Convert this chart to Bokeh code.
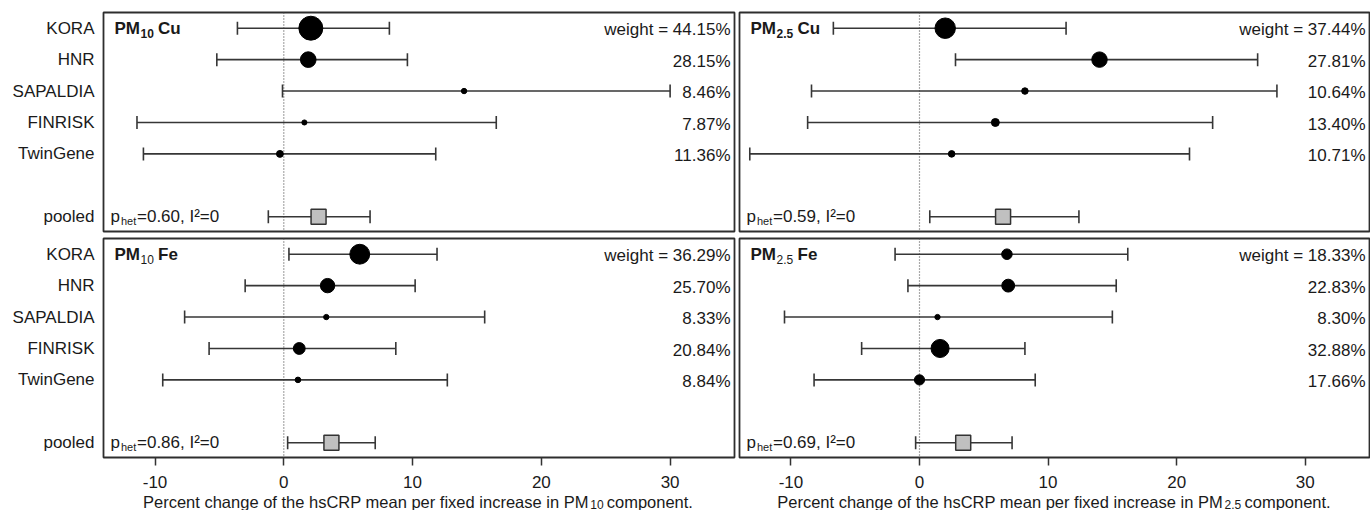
import numpy as np
from bokeh.plotting import figure
from bokeh.models import Range1d, FixedTicker, Span, Label, ColumnDataSource
from bokeh.layouts import row, column
from bokeh.embed import file_html
from bokeh.resources import INLINE

# ---------------- data ----------------
studies = ["KORA", "HNR", "SAPALDIA", "FINRISK", "TwinGene"]
pooled_name = "pooled"
x_ticks = [-10, 0, 10, 20, 30]

# PM10 Cu
pm10_cu_est = [2.1, 1.9, 14.0, 1.6, -0.3]
pm10_cu_lo = [-3.6, -5.2, -0.1, -11.4, -10.9]
pm10_cu_hi = [8.2, 9.6, 30.0, 16.5, 11.8]
pm10_cu_w = [44.15, 28.15, 8.46, 7.87, 11.36]
pm10_cu_pooled = [2.7, -1.2, 6.7]  # estimate, lower, upper
pm10_cu_phet = 0.60

# PM2.5 Cu
pm25_cu_est = [2.0, 14.0, 8.2, 5.9, 2.5]
pm25_cu_lo = [-6.7, 2.8, -8.4, -8.7, -13.2]
pm25_cu_hi = [11.4, 26.3, 27.8, 22.8, 21.0]
pm25_cu_w = [37.44, 27.81, 10.64, 13.40, 10.71]
pm25_cu_pooled = [6.5, 0.8, 12.4]
pm25_cu_phet = 0.59

# PM10 Fe
pm10_fe_est = [5.9, 3.4, 3.3, 1.2, 1.1]
pm10_fe_lo = [0.4, -3.0, -7.7, -5.8, -9.4]
pm10_fe_hi = [11.9, 10.2, 15.6, 8.7, 12.7]
pm10_fe_w = [36.29, 25.70, 8.33, 20.84, 8.84]
pm10_fe_pooled = [3.7, 0.3, 7.1]
pm10_fe_phet = 0.86

# PM2.5 Fe
pm25_fe_est = [6.8, 6.9, 1.4, 1.6, 0.0]
pm25_fe_lo = [-1.9, -0.9, -10.5, -4.5, -8.2]
pm25_fe_hi = [16.2, 15.3, 15.0, 8.2, 9.0]
pm25_fe_w = [18.33, 22.83, 8.30, 32.88, 17.66]
pm25_fe_pooled = [3.4, -0.3, 7.2]
pm25_fe_phet = 0.69

axis_title_main = "Percent change of the hsCRP mean per fixed increase in PM"
axis_title_end = "component."

# ---------------- style ----------------
FONT = "Liberation Sans"
INK = "#1a1a1a"
LINE = "#363636"
FS = "17px"
SUB_FS = "12px"
SUB_W = {"10": 13.5, "2.5": 17.0}
TFS = 16.5                       # axis-title font size (px)
MAIN_EM, END_EM = 27.01, 5.225   # estimated text widths in em

rows = list(range(len(studies)))
pooled_row = len(studies) + 1


def lab(p, x, y, text, size=FS, bold=False, align="left", yu="data"):
    p.add_layout(Label(x=x, y=y, x_units="screen", y_units=yu, text=text,
                       text_font=FONT, text_font_size=size,
                       text_font_style="bold" if bold else "normal",
                       text_align=align, text_baseline="middle",
                       text_color=INK))


def panel(est, lo, hi, w, pooled, phet, fraction, metal, sub_bold, left, bottom):
    fw = 631 if left else 630
    p = figure(frame_width=fw, frame_height=219,
               x_range=Range1d(-14, 35), y_range=Range1d(6.47, -0.5),
               output_backend="svg", toolbar_location=None,
               min_border_left=103 if left else 3,
               min_border_right=2 if left else 1,
               min_border_top=4 if bottom else 12,
               min_border_bottom=35 if bottom else 3,
               x_axis_location="below" if bottom else None,
               y_axis_location="left" if left else None,
               background_fill_color="white", border_fill_color="white")
    p.xgrid.grid_line_color = None
    p.ygrid.grid_line_color = None
    p.outline_line_color = "#2e2e2e"
    p.outline_line_width = 1.8

    if left:
        ax = p.yaxis[0]
        ax.ticker = FixedTicker(ticks=rows + [pooled_row])
        ov = {r: s for r, s in zip(rows, studies)}
        ov[pooled_row] = pooled_name
        ax.major_label_overrides = ov
        ax.axis_line_color = None
        ax.major_tick_line_color = None
        ax.minor_tick_line_color = None
        ax.major_tick_in = 0
        ax.major_tick_out = 0
        ax.major_label_standoff = 9
        ax.major_label_text_font = FONT
        ax.major_label_text_font_size = FS
        ax.major_label_text_color = INK
    if bottom:
        ax = p.xaxis[0]
        ax.ticker = FixedTicker(ticks=x_ticks)
        ax.major_label_overrides = {t: str(t) for t in x_ticks}
        ax.axis_line_color = None
        ax.major_tick_in = 0
        ax.major_tick_out = 8
        ax.major_tick_line_color = "#333333"
        ax.major_tick_line_width = 1.5
        ax.minor_tick_line_color = None
        ax.major_label_standoff = 10
        ax.major_label_text_font = FONT
        ax.major_label_text_font_size = FS
        ax.major_label_text_color = INK

    p.add_layout(Span(location=0, dimension="height", line_color="#555555",
                      line_dash="1 2", line_width=1.2, level="underlay"))

    src = ColumnDataSource(dict(y=rows, est=est, lo=lo, hi=hi,
                                size=[0.52 * v + 1 for v in w]))
    p.segment(x0="lo", y0="y", x1="hi", y1="y", source=src,
              line_color=LINE, line_width=1.6)
    for col in ("lo", "hi"):
        p.scatter(x=col, y="y", source=src, marker="dash", angle=np.pi / 2,
                  size=13, line_color=LINE, line_width=1.6)
    p.scatter(x="est", y="y", size="size", source=src, marker="circle",
              fill_color="black", line_color="black")

    psrc = ColumnDataSource(dict(y=[pooled_row], est=[pooled[0]],
                                 lo=[pooled[1]], hi=[pooled[2]]))
    p.segment(x0="lo", y0="y", x1="hi", y1="y", source=psrc,
              line_color=LINE, line_width=1.6)
    for col in ("lo", "hi"):
        p.scatter(x=col, y="y", source=psrc, marker="dash", angle=np.pi / 2,
                  size=13, line_color=LINE, line_width=1.6)
    p.scatter(x="est", y="y", source=psrc, marker="square", size=15,
              fill_color="#c0c0c0", line_color="#333333", line_width=1.5)

    # weights
    for i, (r, v) in enumerate(zip(rows, w)):
        t = f"weight = {v:.2f}%" if i == 0 else f"{v:.2f}%"
        lab(p, fw - 4, r + 0.05, t, align="right")

    # panel title
    x0 = 11
    sw = SUB_W[fraction]
    lab(p, x0, rows[0] + 0.02, "PM", bold=True)
    lab(p, x0 + 26, rows[0] + 0.18, fraction, size=SUB_FS, bold=sub_bold)
    lab(p, x0 + 26 + sw + 4, rows[0] + 0.02, metal, bold=True)

    # heterogeneity
    lab(p, 7, pooled_row - 0.01, "p")
    lab(p, 17.5, pooled_row + 0.15, "het", size="11px")
    lab(p, 33.5, pooled_row, f"={phet:.2f}, I\u00b2=0")
    return p


def title_fig(fraction, left):
    fw = 631 if left else 630
    t = figure(frame_width=fw, frame_height=18,
               x_range=Range1d(0, 1), y_range=Range1d(0, 1),
               output_backend="svg", toolbar_location=None,
               min_border_left=103 if left else 3,
               min_border_right=2 if left else 1,
               min_border_top=0, min_border_bottom=0,
               x_axis_location=None, y_axis_location=None,
               background_fill_color="white", border_fill_color="white")
    t.outline_line_color = None
    t.xgrid.grid_line_color = None
    t.ygrid.grid_line_color = None
    sw = SUB_W[fraction]
    main_w = MAIN_EM * TFS
    end_w = END_EM * TFS
    start = 314.5 - (main_w + 1.5 + sw + 3 + end_w) / 2
    xs = start + main_w
    lab(t, xs, 9, axis_title_main, size=f"{TFS}px", align="right", yu="screen")
    lab(t, xs + 1.5, 6.5, fraction, size=SUB_FS, yu="screen")
    lab(t, xs + 1.5 + sw + 3, 9, axis_title_end, size=f"{TFS}px", yu="screen")
    return t


p1 = panel(pm10_cu_est, pm10_cu_lo, pm10_cu_hi, pm10_cu_w, pm10_cu_pooled,
           pm10_cu_phet, "10", "Cu", True, True, False)
p2 = panel(pm25_cu_est, pm25_cu_lo, pm25_cu_hi, pm25_cu_w, pm25_cu_pooled,
           pm25_cu_phet, "2.5", "Cu", True, False, False)
p3 = panel(pm10_fe_est, pm10_fe_lo, pm10_fe_hi, pm10_fe_w, pm10_fe_pooled,
           pm10_fe_phet, "10", "Fe", False, True, True)
p4 = panel(pm25_fe_est, pm25_fe_lo, pm25_fe_hi, pm25_fe_w, pm25_fe_pooled,
           pm25_fe_phet, "2.5", "Fe", False, False, True)
t1 = title_fig("10", True)
t2 = title_fig("2.5", False)

layout = column(row(p1, p2), row(p3, p4), row(t1, t2))
open("out.html", "w").write(file_html(layout, INLINE))
